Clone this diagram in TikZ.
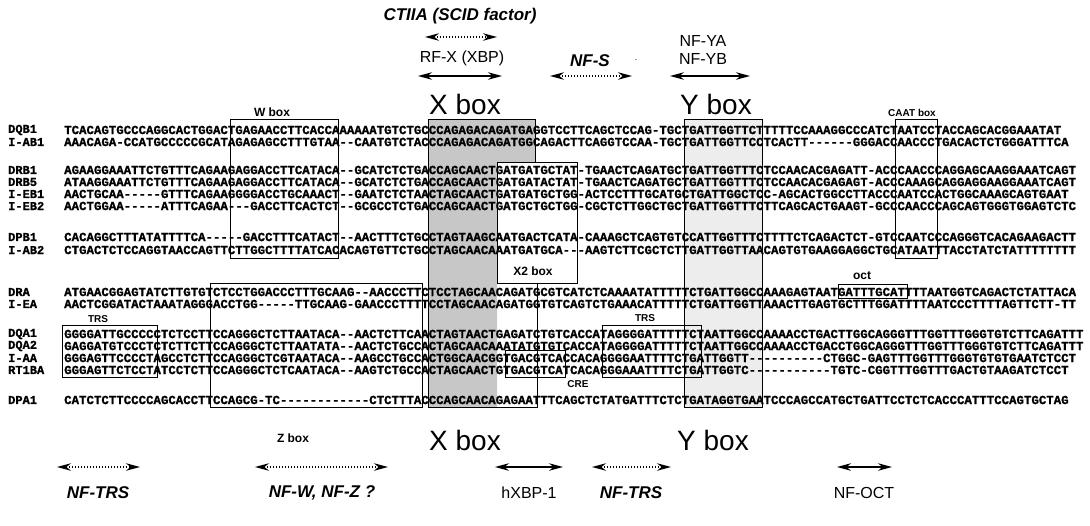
\documentclass[tikz,border=0pt]{standalone}
\usepackage{fontspec}
\setsansfont{Liberation Sans}
\newfontfamily\seqfont{Liberation Mono}[Ligatures=TeXOff,BoldFeatures={FakeBold=1.2}]
\usetikzlibrary{arrows.meta}

\begin{document}
\begin{tikzpicture}[x=1pt,y=1pt,
  every node/.append style={inner sep=0pt},
  seq/.style={anchor=west,font=\seqfont\bfseries\fontsize{12.4}{12.4}\selectfont},
  gene/.style={anchor=west,font=\seqfont\bfseries\fontsize{12}{12}\selectfont},
  boxlab/.style={font=\sffamily\bfseries\fontsize{12}{12}\selectfont},
  smalllab/.style={font=\sffamily\bfseries\fontsize{10}{10}\selectfont},
  biglab/.style={font=\sffamily\fontsize{28}{28}\selectfont},
  factor/.style={font=\sffamily\fontsize{16}{16}\selectfont},
  itfactor/.style={font=\sffamily\bfseries\itshape\fontsize{17}{17}\selectfont},
  region/.style={draw=black,line width=1pt},
  bind/.style={{Stealth[length=14pt,width=7.5pt]}-{Stealth[length=14pt,width=7.5pt]},line width=1.3pt},
  weak/.style={bind,dash pattern=on 1.5pt off 1.5pt}]
\useasboundingbox (0,0) rectangle (1090,-525);

\fill [black!22] (428,-119) -- (535,-119) -- (535,-162) -- (497,-162) -- (497,-407) -- (428,-407) -- cycle;
\fill [black!7] (684,-119) rectangle (762,-407);

\node [itfactor] (ctiia) at (460,-16) {CTIIA (SCID factor)};
\coordinate (ctiiaL) at (425,-37);
\coordinate (ctiiaR) at (497,-37);
\draw [weak] (ctiiaL) -- (ctiiaR);
\node [factor] (rfx) at (462,-58) {RF-X (XBP)};
\coordinate (rfxL) at (418,-76);
\coordinate (rfxR) at (502,-76);
\draw [bind] (rfxL) -- (rfxR);
\node [itfactor] (nfs) at (590,-61) {NF-S};
\node (dot) at (636,-60) {$\cdot$};
\coordinate (nfsL) at (550,-76);
\coordinate (nfsR) at (632,-76);
\draw [weak] (nfsL) -- (nfsR);
\node [factor] (nfya) at (703,-41) {NF-YA};
\node [factor] (nfyb) at (703,-59) {NF-YB};
\coordinate (nfyL) at (670,-76);
\coordinate (nfyR) at (750,-76);
\draw [bind] (nfyL) -- (nfyR);
\node [biglab] (xtop) at (465,-104) {X box};
\node [biglab] (ytop) at (716,-104) {Y box};
\node [boxlab] (wlab) at (272,-112) {W box};
\node [smalllab] (caatlab) at (912,-113) {CAAT box};

\node [gene] (gDQB1) at (8,-130) {DQB1};
\node [seq] (sDQB1) at (64,-130) {TCACAGTGCCCAGGCACTGGACTGAGAACCTTCACCAAAAAATGTCTGCCCAGAGACAGATGAGGTCCTTCAGCTCCAG-TGCTGATTGGTTCTTTTTCCAAAGGCCCATCTAATCCTACCAGCACGGAAATAT};
\node [gene] (gIAB1) at (8,-142) {I-AB1};
\node [seq] (sIAB1) at (64,-142) {AAACAGA-CCATGCCCCCGCATAGAGAGCCTTTGTAA--CAATGTCTACCCAGAGACAGATGGCAGACTTCAGGTCCAA-TGCTGATTGGTTCCTCACTT------GGGACCAACCCTGACACTCTGGGATTTCA};
\node [gene] (gDRB1) at (8,-170) {DRB1};
\node [seq] (sDRB1) at (64,-170) {AGAAGGAAATTCTGTTTCAGAAGAGGACCTTCATACA--GCATCTCTGACCAGCAACTGATGATGCTAT-TGAACTCAGATGCTGATTGGTTTCTCCAACACGAGATT-ACCCAACCCAGGAGCAAGGAAATCAGT};
\node [gene] (gDRB5) at (8,-182) {DRB5};
\node [seq] (sDRB5) at (64,-182) {ATAAGGAAATTCTGTTTCAGAAGAGGACCTTCATACA--GCATCTCTGACCAGCAACTGATGATACTAT-TGAACTCAGATGCTGATTGGTTTCTCCAACACGAGAGT-ACCCAAAGCAGGAGGAAGGAAATCAGT};
\node [gene] (gIEB1) at (8,-194) {I-EB1};
\node [seq] (sIEB1) at (64,-194) {AACTGCAA-----GTTTCAGAAGGGGACCTGCAAACT--GAATCTCTAACTAGCAACTGATGATGCTGG-ACTCCTTTGCATGCTGATTGGCTCC-AGCACTGGCCTTACCCAATCCACTGGCAAAGCAGTGAAT};
\node [gene] (gIEB2) at (8,-206) {I-EB2};
\node [seq] (sIEB2) at (64,-206) {AACTGGAA-----ATTTCAGAA---GACCTTCACTCT--GCGCCTCTGACCAGCAACTGATGCTGCTGG-CGCTCTTGGCTGCTGATTGGTTTCTTCAGCACTGAAGT-GCCCAACCCAGCAGTGGGTGGAGTCTC};
\node [gene] (gDPB1) at (8,-237) {DPB1};
\node [seq] (sDPB1) at (64,-237) {CACAGGCTTTATATTTTCA-----GACCTTTCATACT--AACTTTCTGCCTAGTAAGCAATGACTCATA-CAAAGCTCAGTGTCCATTGGTTTCTTTTCTCAGACTCT-GTCCAATCCCAGGGTCACAGAAGACTT};
\node [gene] (gIAB2) at (8,-250) {I-AB2};
\node [seq] (sIAB2) at (64,-250) {CTGACTCTCCAGGTAACCAGTTCTTGGCTTTTATCACACAGTGTTCTGCCTAGCAACAAATGATGCA---AAGTCTTCGCTCTTGATTGGTTAACAGTGTGAAGGAGGCTGCATAATTTACCTATCTATTTTTTTT};
\node [gene] (gDRA) at (8,-292) {DRA};
\node [seq] (sDRA) at (64,-292) {ATGAACGGAGTATCTTGTGTCTCCTGGACCCTTTGCAAG--AACCCTTCTCCTAGCAACAGATGCGTCATCTCAAAATATTTTTCTGATTGGCCAAAGAGTAATGATTTGCATTTTAATGGTCAGACTCTATTACA};
\node [gene] (gIEA) at (8,-304) {I-EA};
\node [seq] (sIEA) at (64,-304) {AACTCGGATACTAAATAGGGACCTGG-----TTGCAAG-GAACCCTTTTCCTAGCAACAGATGGTGTCAGTCTGAAACATTTTTCTGATTGGTTAAACTTGAGTGCTTTGGATTTTAATCCCTTTTAGTTCTT-TT};
\node [gene] (gDQA1) at (8,-334) {DQA1};
\node [seq] (sDQA1) at (64,-334) {GGGGATTGCCCCCTCTCCTTCCAGGGCTCTTAATACA--AACTCTTCAACTAGTAACTGAGATCTGTCACCATAGGGGATTTTTCTAATTGGCCAAAACCTGACTTGGCAGGGTTTGGTTTGGGTGTCTTCAGATTT};
\node [gene] (gDQA2) at (8,-346) {DQA2};
\node [seq] (sDQA2) at (64,-346) {GAGGATGTCCCTCTCTTCTTCCAGGGCTCTTAATATA--AACTCTGCCACTAGCAACAAATATGTGTCACCATAGGGGATTTTTCTAATTGGCCAAAACCTGACCTGGCAGGGTTTGGTTTGGGTGTCTTCAGATTT};
\node [gene] (gIAA) at (8,-358) {I-AA};
\node [seq] (sIAA) at (64,-358) {GGGAGTTCCCCTAGCCTCTTCCAGGGCTCGTAATACA--AAGCCTGCCACTGGCAACGGTGACGTCACCACAGGGGAATTTTCTGATTGGTT----------CTGGC-GAGTTTGGTTTGGGTGTGTGAATCTCCT};
\node [gene] (gRT1BA) at (8,-370) {RT1BA};
\node [seq] (sRT1BA) at (64,-370) {GGGAGTTCTCCTATCCTCTTCCAGGGCTCTCAATACA--AAGTCTGCCACTAGCAACTGTGACGTCATCACAGGGAAATTTTCTGATTGGTC-----------TGTC-CGGTTTGGTTTGACTGTAAGATCTCCT};
\node [gene] (gDPA1) at (8,-400) {DPA1};
\node [seq] (sDPA1) at (64,-400) {CATCTCTTCCCCAGCACCTTCCAGCG-TC------------CTCTTTACCCAGCAACAGAGAATTTCAGCTCTATGATTTCTCTGATAGGTGAATCCCAGCCATGCTGATTCCTCTCACCCATTTCCAGTGCTAG};

\draw [region] (230,-119) rectangle (338,-258);
\draw [region] (535,-162) -- (535,-119) -- (428,-119) -- (428,-407) -- (537,-407) -- (537,-283) -- (497,-283);
\draw [region] (497,-162) rectangle (577,-283);
\draw [region] (684,-119) rectangle (762,-407);
\draw [region] (895,-119) rectangle (937,-258);
\draw [region] (210,-283) rectangle (422,-407);
\draw [region] (62,-325) rectangle (157,-377);
\draw [region] (602,-325) rectangle (701,-377);
\draw [region] (505,-350) rectangle (565,-377);
\draw [region] (838,-284) rectangle (907,-298);

\node [boxlab] (x2lab) at (533,-271) {X2 box};
\node [boxlab] (octlab) at (862,-276) {oct};
\node [smalllab] (trs1) at (98,-319) {TRS};
\node [smalllab] (trs2) at (645,-318) {TRS};
\node [smalllab] (cre) at (578,-384) {CRE};

\node [boxlab] (zbot) at (293,-438) {Z box};
\node [biglab] (xbot) at (465,-440) {X box};
\node [biglab] (ybot) at (713,-440) {Y box};

\coordinate (trsaL) at (57,-467);
\coordinate (trsaR) at (140,-467);
\draw [weak] (trsaL) -- (trsaR);
\coordinate (nfwL) at (255,-467);
\coordinate (nfwR) at (388,-467);
\draw [weak] (nfwL) -- (nfwR);
\coordinate (hxbpL) at (495,-467);
\coordinate (hxbpR) at (563,-467);
\draw [bind] (hxbpL) -- (hxbpR);
\coordinate (trsbL) at (592,-467);
\coordinate (trsbR) at (671,-467);
\draw [weak] (trsbL) -- (trsbR);
\coordinate (octL) at (837,-467);
\coordinate (octR) at (892,-467);
\draw [bind] (octL) -- (octR);

\node [itfactor] (nftrs1) at (98,-493) {NF-TRS};
\node [itfactor] (nfwz) at (322,-493) {NF-W, NF-Z ?};
\node [factor] (hxbp) at (529,-493) {hXBP-1};
\node [itfactor] (nftrs2) at (631,-493) {NF-TRS};
\node [factor] (nfoct) at (864,-493) {NF-OCT};
\end{tikzpicture}
\end{document}
